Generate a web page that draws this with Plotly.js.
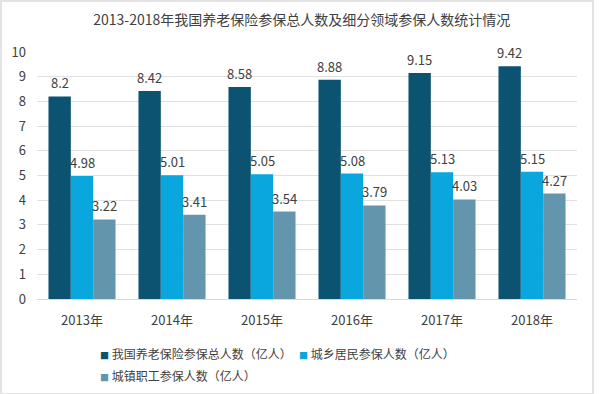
<!DOCTYPE html>
<html>
<head>
<meta charset="utf-8">
<script src="https://cdn.plot.ly/plotly-3.0.1.min.js"></script>
<style>
  html, body { margin: 0; padding: 0; background: #fff; }
  #wrap { position: relative; width: 600px; height: 394px; }
  #chart { width: 600px; height: 394px; }
  #frame { position: absolute; left: 0; top: 0; width: 590px; height: 391px;
           border: 2px solid #e3e3e3; border-bottom-width: 1px; pointer-events: none; }
</style>
</head>
<body>
<div id="wrap"><div id="chart"></div><div id="frame"></div></div>
<script>
const titleText = "2013-2018年我国养老保险参保总人数及细分领域参保人数统计情况";
const categories = ["2013年", "2014年", "2015年", "2016年", "2017年", "2018年"];
const seriesNames = ["我国养老保险参保总人数（亿人）", "城乡居民参保人数（亿人）", "城镇职工参保人数（亿人）"];
const totalInsured = [8.2, 8.42, 8.58, 8.88, 9.15, 9.42];
const ruralUrbanResidents = [4.98, 5.01, 5.05, 5.08, 5.13, 5.15];
const urbanEmployees = [3.22, 3.41, 3.54, 3.79, 4.03, 4.27];
const seriesValues = [totalInsured, ruralUrbanResidents, urbanEmployees];
const colors = ["#0b5371", "#0aa6de", "#6395ad"];

const FONT = '"Noto Sans CJK SC", "Noto Sans", sans-serif';
const bargap = 0.255;
const barW = (1 - bargap) / seriesValues.length;

const traces = seriesValues.map((vals, k) => ({
  type: "bar",
  name: seriesNames[k],
  x: categories,
  y: vals,
  marker: { color: colors[k] },
  showlegend: false,
  hoverinfo: "x+y+name"
}));

const annotations = [];
seriesValues.forEach((vals, k) => {
  vals.forEach((v, i) => {
    annotations.push({
      x: i + (k - 1) * barW, y: v, xref: "x", yref: "y",
      text: String(v), showarrow: false,
      xanchor: "center", yanchor: "bottom", yshift: 2,
      font: { family: FONT, size: 13, color: "#404040" }
    });
  });
});

// custom legend (small squares like the reference)
const legendPos = [[0.113, -0.219], [0.482, -0.219], [0.113, -0.308]];
seriesNames.forEach((name, k) => {
  annotations.push({
    xref: "paper", yref: "paper", x: legendPos[k][0], y: legendPos[k][1],
    xanchor: "left", yanchor: "middle", showarrow: false,
    text: '<span style="color:' + colors[k] + ';font-size:9px">■</span> ' + name,
    font: { family: FONT, size: 12, color: "#404040" }
  });
});

const layout = {
  width: 600, height: 394,
  margin: { l: 37, r: 23, t: 52, b: 95 },
  paper_bgcolor: "#ffffff", plot_bgcolor: "#ffffff",
  title: { text: titleText, x: 0.503, xanchor: "center", y: 0.95, yanchor: "middle",
           font: { family: FONT, size: 14, color: "#404040" } },
  barmode: "group", bargap: bargap, bargroupgap: 0,
  xaxis: {
    type: "category", showgrid: false, zeroline: false,
    showline: true, linecolor: "#d9d9d9", linewidth: 1,
    ticks: "", ticklabelstandoff: 9,
    tickfont: { family: FONT, size: 13, color: "#404040" }
  },
  yaxis: {
    range: [0, 10], dtick: 1, showgrid: true, gridcolor: "#e0e0e0", gridwidth: 1,
    zeroline: false, showline: false, ticks: "", ticklabelstandoff: 10,
    tickfont: { family: FONT, size: 13, color: "#404040" }
  },
  annotations: annotations,
  showlegend: false
};

Plotly.newPlot("chart", traces, layout, { displayModeBar: false, staticPlot: true });
</script>
</body>
</html>
